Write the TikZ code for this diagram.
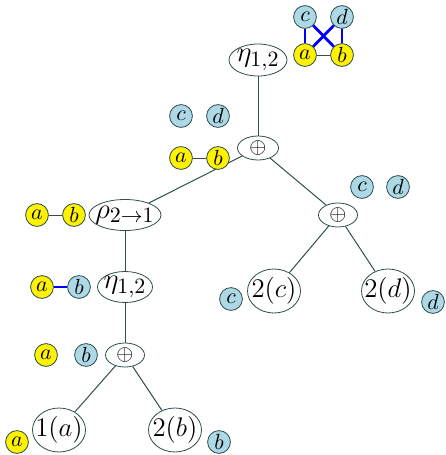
\documentclass[tikz,border=0pt]{standalone}
\usepackage{graphicx}
\usetikzlibrary{shapes.geometric}
\DeclareMathSizes{14.4}{14.4}{10.95}{8}
\definecolor{edgegray}{HTML}{2F4F4F}
\definecolor{lblue}{HTML}{ADD8E6}
% label set in a zero-width box, so the ellipse keeps its given size
\newcommand{\oplabel}[1]{\makebox[0pt]{$#1$}}
\newcommand{\leaflabel}[1]{\makebox[0pt]{\scalebox{1.12}{$#1$}}}
\tikzset{
  op/.style={ellipse, draw=edgegray, fill=white, inner sep=0pt,
    font=\fontsize{14.4}{17}\selectfont},
  sumop/.style={op, minimum width=20.5pt, minimum height=12pt,
    font=\fontsize{10.95}{13}\selectfont},
  leaf/.style={op, minimum width=26.5pt, minimum height=22pt,
    font=\fontsize{12}{14}\selectfont},
  vtx/.style={circle, draw=edgegray, inner sep=0pt, minimum size=11.4pt,
    font=\fontsize{10.95}{13}\selectfont},
  ya/.style={vtx, fill=yellow},
  bl/.style={vtx, fill=lblue},
  tree/.style={draw=edgegray, line width=0.5pt},
  strong/.style={draw=blue, line width=1.4pt},
  weak/.style={draw=edgegray, line width=0.5pt},
}
\begin{document}
\begin{tikzpicture}[x=0.5pt, y=-0.5pt]
\useasboundingbox (0,0) rectangle (445,455);

% operator tree
\node[op, minimum width=29pt, minimum height=16pt] (eta1) at (258,60) {\oplabel{\eta_{1,2}}};
\node[sumop] (sum1) at (258,148) {$\oplus$};
\node[op, minimum width=36pt, minimum height=15.5pt] (rho) at (125,215) {\oplabel{\rho_{2\to1}}};
\node[sumop, minimum width=19.5pt] (sum2) at (338,215) {$\oplus$};
\node[op, minimum width=27.5pt, minimum height=15.5pt] (eta2) at (125,287) {\oplabel{\eta_{1,2}}};
\node[sumop, minimum width=19.5pt] (sum3) at (125,355) {$\oplus$};
\node[leaf] (lc) at (274,291) {\leaflabel{2(c)}};
\node[leaf] (ld) at (388,291) {\leaflabel{2(d)}};
\node[leaf] (la) at (59,430) {\leaflabel{1(a)}};
\node[leaf] (lb) at (175,430) {\leaflabel{2(b)}};

\draw[tree] (eta1) -- (sum1);
\draw[tree] (sum1) -- (rho);
\draw[tree] (sum1) -- (sum2);
\draw[tree] (rho) -- (eta2);
\draw[tree] (eta2) -- (sum3);
\draw[tree] (sum3) -- (la);
\draw[tree] (sum3) -- (lb);
\draw[tree] (sum2) -- (lc);
\draw[tree] (sum2) -- (ld);

% full graph at the root
\node[bl] (gc) at (305,17) {$c$};
\node[bl] (gd) at (342,17) {$d$};
\node[ya] (ga) at (305,55) {$a$};
\node[ya] (gb) at (342,55) {$b$};
\draw[weak] (ga) -- (gb);
\draw[strong] (gc) -- (ga);
\draw[strong] (gd) -- (gb);
\draw[strong] (gc) -- (gb);
\draw[strong] (gd) -- (ga);

% graph beside the upper sum
\node[bl] (uc) at (181,116) {$c$};
\node[bl] (ud) at (218,116) {$d$};
\node[ya] (ua) at (181,158) {$a$};
\node[ya] (ub) at (218,158) {$b$};
\draw[weak] (ua) -- (ub);

% graph beside rho
\node[ya] (ra) at (37,215) {$a$};
\node[ya] (rb) at (74,215) {$b$};
\draw[weak] (ra) -- (rb);

% graph beside the right sum
\node[bl] (sc) at (362,187) {$c$};
\node[bl] (sd) at (398,187) {$d$};

% graph beside the lower eta
\node[ya] (ea) at (42,287) {$a$};
\node[bl] (eb) at (79,287) {$b$};
\draw[strong] (ea) -- (eb);

% graph beside the lower sum
\node[ya] (la2) at (46,355) {$a$};
\node[bl] (lb2) at (86,355) {$b$};

% single vertices at the leaves
\node[bl] (vc) at (231,299) {$c$};
\node[bl] (vd) at (433,302) {$d$};
\node[ya] (va) at (17,442) {$a$};
\node[bl] (vb) at (219,442) {$b$};
\end{tikzpicture}
\end{document}
